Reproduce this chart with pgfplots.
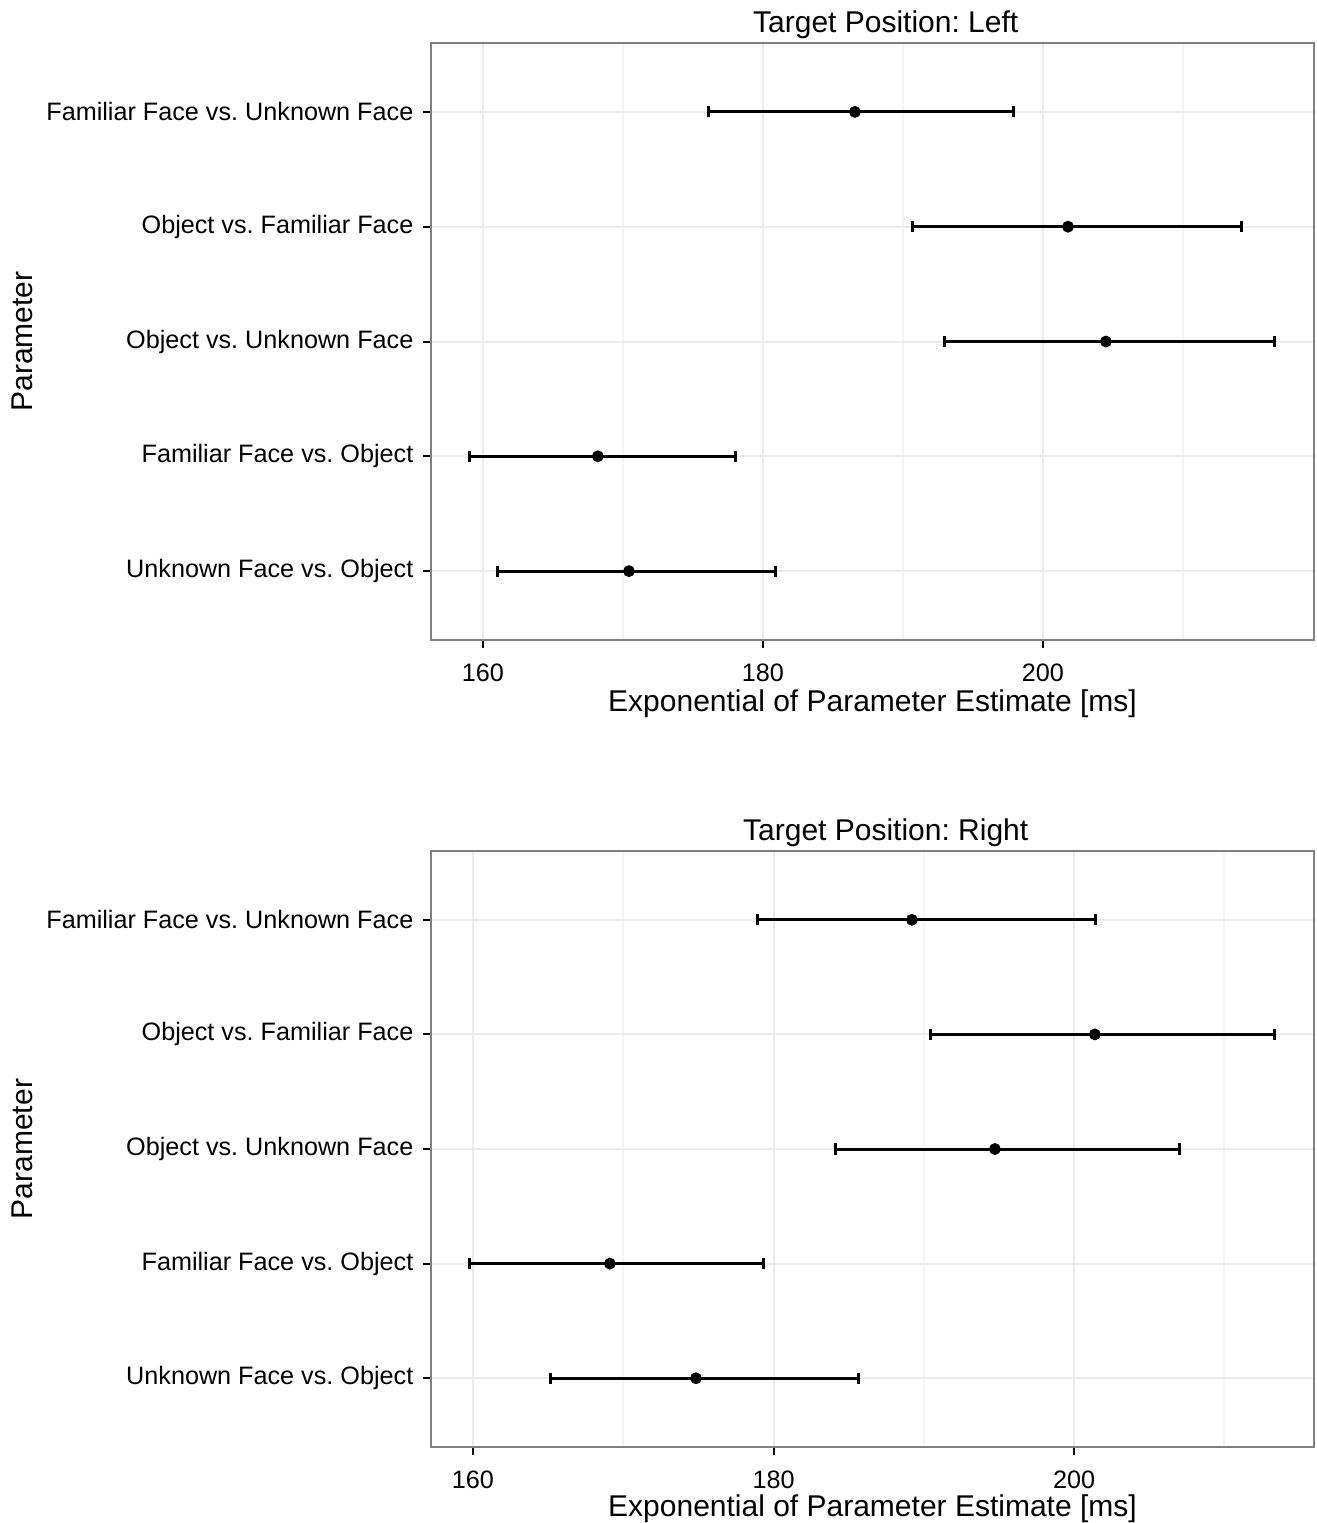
\documentclass[border=0pt]{standalone}
\usepackage{pgfplots}
\usepackage{pgfplotstable}
\pgfplotsset{compat=1.18}
\usepackage{fontspec}
\setmainfont{Liberation Sans}
\frenchspacing
\definecolor{framegray}{gray}{0.5}
\definecolor{majgrid}{gray}{0.92}
\definecolor{mingrid}{gray}{0.96}

\pgfplotstableread{
y est lo hi
5 186.57 176.14 197.93
4 201.79 190.71 214.21
3 204.50 193.00 216.57
2 168.21 159.07 178.07
1 170.43 161.07 180.93
}\tabLeft

\pgfplotstableread{
y est lo hi
5 189.21 178.96 201.45
4 201.38 190.47 213.36
3 194.73 184.15 207.04
2 169.11 159.80 179.30
1 174.84 165.19 185.68
}\tabRight

\pgfplotsset{
  ggstyle/.style={
    scale only axis,
    width=441.5pt, height=298.5pt,
    ymin=0.4, ymax=5.6,
    ytick={1,2,3,4,5},
    yticklabels={Unknown Face vs. Object, Familiar Face vs. Object, Object vs. Unknown Face, Object vs. Familiar Face, Familiar Face vs. Unknown Face},
    xtick={160,180,200},
    minor xtick={170,190,210},
    xtick pos=bottom, ytick pos=left,
    xmajorgrids, ymajorgrids, xminorgrids,
    major grid style={draw=majgrid, line width=1pt},
    minor grid style={draw=mingrid, line width=1pt},
    tick align=outside,
    major tick length=4pt,
    minor tick length=0pt,
    major tick style={black, line width=1pt},
    axis line style={draw=framegray, line width=1pt},
    tick label style={font=\fontsize{12.6}{15}\selectfont},
    /pgf/number format/assume math mode=true,
    yticklabel style={xshift=-1.3pt},
    xticklabel style={yshift=-4.5pt},
    xlabel={Exponential of Parameter Estimate [ms]},
    ylabel={Parameter},
    every axis x label/.style={at={(rel axis cs:0.5,-0.1198)}, anchor=base, inner sep=0pt, font=\fontsize{15}{18}\selectfont},
    every axis y label/.style={at={(rel axis cs:-0.4632,0.5)}, rotate=90, anchor=center, inner sep=0pt, font=\fontsize{15}{18}\selectfont},
    every axis title/.style={at={(rel axis cs:0.515,1.031)}, anchor=center, inner sep=0pt, font=\fontsize{15}{18}\selectfont},
  },
  errplot/.style={
    black, only marks, mark=*, mark size=2.75pt,
    error bars/.cd, x dir=both, x explicit,
    error mark=|,
    error bar style={black, line width=1.5pt},
    error mark options={black, line width=1.5pt, mark size=2.8pt},
  }
}

\begin{document}
\begin{tikzpicture}
\begin{axis}[ggstyle, at={(0pt,0pt)}, anchor=north west,
  xmin=156.29, xmax=219.36,
  title={Target Position: Left}]
\addplot[errplot] table[x=est, y=y,
  x error plus expr=\thisrow{hi}-\thisrow{est},
  x error minus expr=\thisrow{est}-\thisrow{lo}] {\tabLeft};
\end{axis}
\begin{axis}[ggstyle, at={(0pt,-404pt)}, anchor=north west,
  height=298pt,
  xmin=157.21, xmax=215.96,
  every axis x label/.append style={at={(rel axis cs:0.5,-0.1166)}},
  title={Target Position: Right}]
\addplot[errplot] table[x=est, y=y,
  x error plus expr=\thisrow{hi}-\thisrow{est},
  x error minus expr=\thisrow{est}-\thisrow{lo}] {\tabRight};
\end{axis}
\path (-215.5pt,21.5pt) rectangle (443pt,-740pt);
\end{tikzpicture}
\end{document}
